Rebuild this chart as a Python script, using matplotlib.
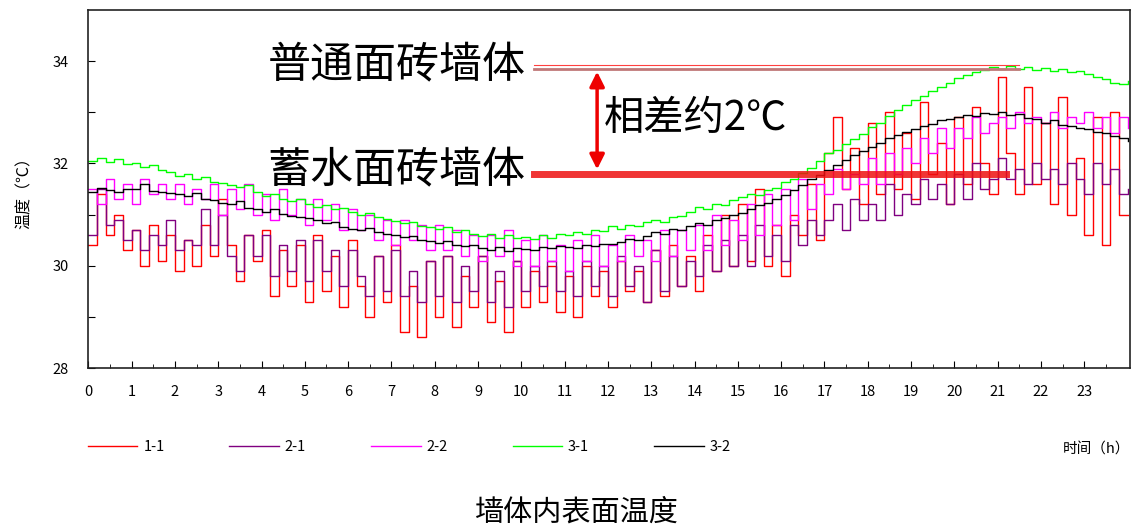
import numpy as np
import matplotlib
matplotlib.use("Agg")
import matplotlib.pyplot as plt

plt.rcParams['font.family'] = ['Noto Sans CJK SC', 'DejaVu Sans']

# time step 0.2 h, 0 .. 24 h
hours = np.round(np.arange(121) * 0.2, 1)

t_1_1 = [30.4, 31.4, 30.6, 31.0, 30.3,  30.7, 30.0, 30.8, 30.1, 30.6,
         29.9, 30.5, 30.0, 30.8, 30.2,  31.3, 30.4, 29.7, 30.6, 30.1,
         30.7, 29.4, 30.3, 29.6, 30.4,  29.3, 30.6, 29.5, 30.2, 29.2,
         30.5, 29.6, 29.0, 30.2, 29.3,  30.4, 28.7, 29.6, 28.6, 30.1,
         29.0, 30.2, 28.8, 29.8, 29.2,  30.2, 28.9, 29.7, 28.7, 30.1,
         29.2, 29.9, 29.3, 30.0, 29.1,  29.8, 29.0, 30.0, 29.4, 29.9,
         29.2, 30.1, 29.5, 29.9, 29.3,  30.3, 29.4, 30.4, 29.6, 30.2,
         29.5, 30.6, 29.9, 31.0, 30.0,  31.2, 30.1, 31.5, 30.0, 30.8,
         29.8, 31.0, 30.6, 31.6, 30.5,  32.2, 32.9, 31.5, 32.3, 31.2,
         32.8, 31.4, 33.0, 31.5, 32.6,  31.3, 33.2, 31.8, 32.4, 31.2,
         32.9, 31.6, 33.1, 32.0, 31.4,  33.7, 32.2, 31.4, 33.5, 31.6,
         32.8, 31.2, 33.3, 31.0, 32.1,  30.6, 32.9, 30.4, 33.0, 31.0,
         31.0]

t_2_1 = [30.6, 31.5, 30.8, 30.9, 30.5,  30.7, 30.3, 30.6, 30.4, 30.9,
         30.3, 30.5, 30.4, 31.1, 30.4,  31.0, 30.2, 29.9, 30.6, 30.2,
         30.6, 29.8, 30.4, 29.9, 30.5,  29.7, 30.5, 29.9, 30.3, 29.6,
         30.3, 29.8, 29.4, 30.2, 29.5,  30.3, 29.4, 29.9, 29.3, 30.1,
         29.4, 30.2, 29.3, 30.0, 29.5,  30.2, 29.3, 29.9, 29.2, 30.1,
         29.5, 30.0, 29.6, 30.1, 29.5,  29.9, 29.4, 30.1, 29.6, 30.0,
         29.4, 30.2, 29.6, 30.0, 29.3,  30.3, 29.5, 30.2, 29.6, 30.1,
         29.8, 30.4, 29.9, 30.5, 30.0,  30.6, 30.0, 30.8, 30.2, 30.6,
         30.1, 30.8, 30.4, 30.9, 30.6,  30.9, 31.2, 30.7, 31.3, 30.9,
         31.2, 30.9, 31.6, 31.0, 31.4,  31.2, 31.7, 31.3, 31.6, 31.2,
         31.8, 31.3, 32.0, 31.5, 31.7,  32.1, 31.7, 31.9, 31.6, 32.0,
         31.7, 31.9, 31.6, 32.0, 31.7,  31.4, 32.0, 31.6, 31.9, 31.4,
         31.5]

t_2_2 = [31.5, 31.2, 31.7, 31.3, 31.6,  31.2, 31.7, 31.4, 31.6, 31.3,
         31.6, 31.2, 31.5, 31.3, 31.6,  31.0, 31.5, 31.1, 31.6, 31.0,
         31.4, 30.9, 31.5, 31.0, 31.3,  30.8, 31.3, 30.9, 31.2, 30.7,
         31.1, 30.7, 31.0, 30.5, 30.9,  30.4, 30.9, 30.5, 30.8, 30.3,
         30.8, 30.3, 30.7, 30.2, 30.6,  30.1, 30.6, 30.2, 30.7, 30.0,
         30.5, 30.0, 30.6, 30.1, 30.4,  29.9, 30.5, 30.1, 30.6, 30.0,
         30.4, 30.1, 30.6, 30.2, 30.5,  30.1, 30.7, 30.2, 30.7, 30.3,
         30.8, 30.3, 31.0, 30.4, 30.9,  30.5, 31.2, 30.6, 31.4, 30.8,
         31.5, 30.9, 31.7, 31.1, 31.6,  31.4, 31.9, 31.5, 31.8, 31.6,
         32.1, 31.6, 32.2, 31.8, 32.3,  32.0, 32.5, 32.2, 32.7, 32.3,
         32.7, 32.5, 32.9, 32.6, 32.8,  32.9, 32.7, 33.0, 32.8, 32.9,
         32.8, 33.0, 32.7, 32.9, 32.8,  33.0, 32.7, 32.9, 32.6, 32.9,
         32.7]

t_3_1 = [32.05, 32.10, 32.02, 32.08, 31.98,  32.00, 31.94, 31.97, 31.88, 31.84,
         31.76, 31.80, 31.70, 31.74, 31.64,  31.62, 31.58, 31.54, 31.57, 31.44,
         31.36, 31.40, 31.30, 31.26, 31.30,  31.20, 31.15, 31.18, 31.10, 31.12,
         31.05, 31.00, 31.04, 30.95, 30.92,  30.88, 30.84, 30.86, 30.78, 30.75,
         30.72, 30.76, 30.66, 30.70, 30.62,  30.58, 30.62, 30.55, 30.60, 30.54,
         30.57, 30.52, 30.60, 30.55, 30.62,  30.60, 30.66, 30.62, 30.70, 30.68,
         30.77, 30.72, 30.80, 30.78, 30.86,  30.90, 30.86, 30.96, 30.98, 31.06,
         31.15, 31.10, 31.20, 31.18, 31.28,  31.35, 31.40, 31.38, 31.48, 31.52,
         31.63, 31.70, 31.82, 31.92, 32.05,  32.20, 32.26, 32.38, 32.48, 32.58,
         32.72, 32.80, 32.92, 33.04, 33.14,  33.25, 33.32, 33.42, 33.50, 33.58,
         33.68, 33.72, 33.78, 33.82, 33.88,  33.85, 33.90, 33.84, 33.88, 33.82,
         33.86, 33.80, 33.84, 33.78, 33.80,  33.75, 33.70, 33.66, 33.58, 33.55,
         33.62]

t_3_2 = [31.45, 31.52, 31.48, 31.44, 31.50,  31.50, 31.60, 31.46, 31.44, 31.42,
         31.40, 31.36, 31.42, 31.30, 31.28,  31.23, 31.20, 31.26, 31.12, 31.10,
         31.06, 31.10, 31.02, 30.98, 30.96,  30.94, 30.90, 30.84, 30.86, 30.76,
         30.72, 30.70, 30.74, 30.66, 30.62,  30.60, 30.56, 30.58, 30.50, 30.48,
         30.45, 30.48, 30.40, 30.38, 30.40,  30.35, 30.30, 30.36, 30.28, 30.34,
         30.32, 30.30, 30.36, 30.34, 30.38,  30.37, 30.34, 30.40, 30.38, 30.42,
         30.42, 30.46, 30.52, 30.50, 30.58,  30.65, 30.62, 30.72, 30.70, 30.78,
         30.84, 30.80, 30.90, 30.94, 31.00,  31.04, 31.10, 31.18, 31.22, 31.30,
         31.39, 31.48, 31.58, 31.70, 31.78,  31.88, 31.96, 32.06, 32.16, 32.24,
         32.33, 32.40, 32.50, 32.56, 32.62,  32.67, 32.74, 32.78, 32.84, 32.86,
         32.90, 32.94, 32.92, 32.98, 32.96,  33.00, 32.94, 32.96, 32.88, 32.86,
         32.80, 32.84, 32.76, 32.74, 32.70,  32.67, 32.62, 32.60, 32.54, 32.50,
         32.43]

series = [
    ("1-1", t_1_1, "#ff0000"),
    ("2-1", t_2_1, "#800080"),
    ("2-2", t_2_2, "#ff00ff"),
    ("3-1", t_3_1, "#00ff00"),
    ("3-2", t_3_2, "#000000"),
]

fig = plt.figure(figsize=(11.32, 5.28), dpi=100)
ax = fig.add_axes([0.078, 0.303, 0.92, 0.678])

for name, vals, col in series:
    ax.plot(hours, vals, color=col, lw=1.0, drawstyle='steps-post', label=name)

ax.set_xlim(0, 24.05)
ax.set_ylim(28, 35)
ax.set_xticks(range(24))
ax.set_xticks(np.arange(0, 24, 0.5), minor=True)
ax.set_yticks([28, 29, 30, 31, 32, 33, 34])
ax.set_yticklabels(["28", "", "30", "", "32", "", "34"])
ax.tick_params(axis='x', direction='in', labelsize=10.5, length=5, pad=12)
ax.tick_params(axis='y', direction='in', labelsize=10.5, length=5, pad=14)
ax.tick_params(axis='x', which='minor', direction='in', length=3)
for s in ax.spines.values():
    s.set_linewidth(1.2)
    s.set_color("#222222")
ax.set_ylabel("温度（℃）", fontsize=11.5, labelpad=14)

# annotation: two reference lines + arrow
ax.plot([10.3, 21.5], [33.92, 33.92], color="#ff4040", lw=0.8)
ax.plot([10.3, 21.5], [33.84, 33.84], color="#c07878", lw=2.0)
ax.plot([10.3, 21.2], [31.80, 31.80], color="#ee1111", lw=5, alpha=0.85)
ax.annotate("", xy=(11.75, 33.85), xytext=(11.75, 31.83),
            arrowprops=dict(arrowstyle='<|-|>', color="#ee0000", lw=2.5,
                            mutation_scale=22))
ax.text(10.1, 33.9, "普通面砖墙体", fontsize=31, ha='right', va='center')
ax.text(10.1, 31.85, "蓄水面砖墙体", fontsize=31, ha='right', va='center')
ax.text(11.9, 32.87, "相差约2℃", fontsize=29, ha='left', va='center')

fig.legend(loc='center left', bbox_to_anchor=(0.066, 0.153), ncol=5,
           frameon=False, fontsize=10.5, handlelength=3.4, handletextpad=0.4,
           columnspacing=4.45)
fig.text(0.998, 0.148, "时间（h）", fontsize=10.5, ha='right', va='center')
fig.text(0.51, 0.03, "墙体内表面温度", fontsize=21, ha='center', va='center')

fig.savefig("out.png", dpi=100)
